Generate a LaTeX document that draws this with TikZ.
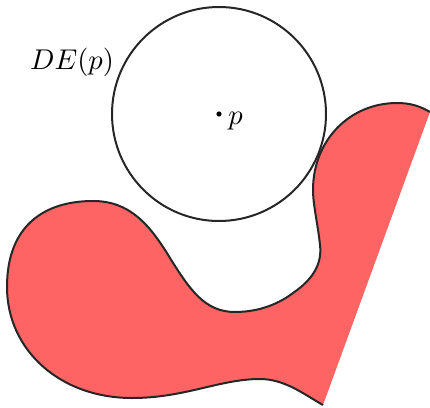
\documentclass[tikz,border=0pt]{standalone}
\definecolor{blobred}{RGB}{255,100,100}
\begin{document}
\begin{tikzpicture}[x=0.35pt,y=-0.35pt,
  outline/.style={line width=0.7pt,draw=black!85}]
\useasboundingbox (0,0) rectangle (430,407);
\def\blob{(323,405) .. controls (305,395) and (285,379) .. (260,379)
  .. controls (220,379) and (185,398) .. (132,398)
  .. controls (60,398) and (7,350) .. (7,287)
  .. controls (7,225) and (45,201) .. (93,201)
  .. controls (130,201) and (150,225) .. (170,258)
  .. controls (190,290) and (205,312) .. (235,312)
  .. controls (260,312) and (280,303) .. (293,293)
  .. controls (315,278) and (322,262) .. (320,245)
  .. controls (318,225) and (313,205) .. (313,190)
  .. controls (313,140) and (350,103) .. (397,103)
  .. controls (410,103) and (420,106) .. (430,112)}
\fill[blobred] \blob -- cycle;
\draw[outline] \blob;
\coordinate (c) at (219,114);
\node[circle,minimum size=74.9pt,inner sep=0pt,outline] (de) at (c) {};
\fill (c) circle[radius=0.9pt];
\node[anchor=west,inner sep=1pt] (pl) at (225,121) {$p$};
\node (del) at (72,62) {$DE(p)$};
\end{tikzpicture}
\end{document}
